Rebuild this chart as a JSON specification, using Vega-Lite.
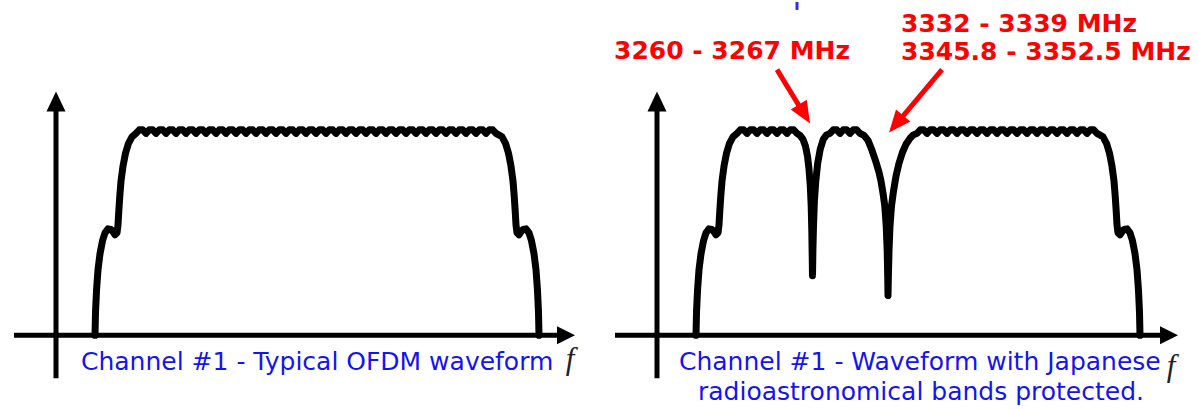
{
  "$schema": "https://vega.github.io/schema/vega-lite/v6.json",
  "width": 1198,
  "height": 409,
  "padding": 0,
  "autosize": {"type": "fit", "contains": "padding"},
  "background": "white",
  "config": {"view": {"stroke": null}},
  "datasets": {
    "curve": [
      {"g":"L","f":95,"p":0},{"g":"L","f":95.5,"p":23},{"g":"L","f":96.5,"p":45},{"g":"L","f":98,"p":66},{"g":"L","f":100,"p":82},{"g":"L","f":102.5,"p":95},{"g":"L","f":105,"p":103},{"g":"L","f":108,"p":107},{"g":"L","f":111,"p":106.5},{"g":"L","f":113,"p":104},{"g":"L","f":115,"p":101},{"g":"L","f":117,"p":103},{"g":"L","f":118,"p":111},{"g":"L","f":118.8,"p":125},{"g":"L","f":119.8,"p":140},{"g":"L","f":121,"p":155},{"g":"L","f":123,"p":170},{"g":"L","f":125.5,"p":183},{"g":"L","f":128.5,"p":193},{"g":"L","f":132,"p":199.5},
      {"g":"L","f":136,"p":203},{"g":"L","f":139.3,"p":206.5},{"g":"L","f":142.7,"p":206.5},
      {"g":"L","f":146,"p":203},{"g":"L","f":149.3,"p":206.5},{"g":"L","f":152.7,"p":206.5},
      {"g":"L","f":156,"p":203},{"g":"L","f":159.3,"p":206.5},{"g":"L","f":162.7,"p":206.5},
      {"g":"L","f":166,"p":203},{"g":"L","f":169.3,"p":206.5},{"g":"L","f":172.7,"p":206.5},
      {"g":"L","f":176,"p":203},{"g":"L","f":179.3,"p":206.5},{"g":"L","f":182.7,"p":206.5},
      {"g":"L","f":186,"p":203},{"g":"L","f":189.3,"p":206.5},{"g":"L","f":192.7,"p":206.5},
      {"g":"L","f":196,"p":203},{"g":"L","f":199.3,"p":206.5},{"g":"L","f":202.7,"p":206.5},
      {"g":"L","f":206,"p":203},{"g":"L","f":209.3,"p":206.5},{"g":"L","f":212.7,"p":206.5},
      {"g":"L","f":216,"p":203},{"g":"L","f":219.3,"p":206.5},{"g":"L","f":222.7,"p":206.5},
      {"g":"L","f":226,"p":203},{"g":"L","f":229.3,"p":206.5},{"g":"L","f":232.7,"p":206.5},
      {"g":"L","f":236,"p":203},{"g":"L","f":239.3,"p":206.5},{"g":"L","f":242.7,"p":206.5},
      {"g":"L","f":246,"p":203},{"g":"L","f":249.3,"p":206.5},{"g":"L","f":252.7,"p":206.5},
      {"g":"L","f":256,"p":203},{"g":"L","f":259.3,"p":206.5},{"g":"L","f":262.7,"p":206.5},
      {"g":"L","f":266,"p":203},{"g":"L","f":269.3,"p":206.5},{"g":"L","f":272.7,"p":206.5},
      {"g":"L","f":276,"p":203},{"g":"L","f":279.3,"p":206.5},{"g":"L","f":282.7,"p":206.5},
      {"g":"L","f":286,"p":203},{"g":"L","f":289.3,"p":206.5},{"g":"L","f":292.7,"p":206.5},
      {"g":"L","f":296,"p":203},{"g":"L","f":299.3,"p":206.5},{"g":"L","f":302.7,"p":206.5},
      {"g":"L","f":306,"p":203},{"g":"L","f":309.3,"p":206.5},{"g":"L","f":312.7,"p":206.5},
      {"g":"L","f":316,"p":203},{"g":"L","f":319.3,"p":206.5},{"g":"L","f":322.7,"p":206.5},
      {"g":"L","f":326,"p":203},{"g":"L","f":329.3,"p":206.5},{"g":"L","f":332.7,"p":206.5},
      {"g":"L","f":336,"p":203},{"g":"L","f":339.3,"p":206.5},{"g":"L","f":342.7,"p":206.5},
      {"g":"L","f":346,"p":203},{"g":"L","f":349.3,"p":206.5},{"g":"L","f":352.7,"p":206.5},
      {"g":"L","f":356,"p":203},{"g":"L","f":359.3,"p":206.5},{"g":"L","f":362.7,"p":206.5},
      {"g":"L","f":366,"p":203},{"g":"L","f":369.3,"p":206.5},{"g":"L","f":372.7,"p":206.5},
      {"g":"L","f":376,"p":203},{"g":"L","f":379.3,"p":206.5},{"g":"L","f":382.7,"p":206.5},
      {"g":"L","f":386,"p":203},{"g":"L","f":389.3,"p":206.5},{"g":"L","f":392.7,"p":206.5},
      {"g":"L","f":396,"p":203},{"g":"L","f":399.3,"p":206.5},{"g":"L","f":402.7,"p":206.5},
      {"g":"L","f":406,"p":203},{"g":"L","f":409.3,"p":206.5},{"g":"L","f":412.7,"p":206.5},
      {"g":"L","f":416,"p":203},{"g":"L","f":419.3,"p":206.5},{"g":"L","f":422.7,"p":206.5},
      {"g":"L","f":426,"p":203},{"g":"L","f":429.3,"p":206.5},{"g":"L","f":432.7,"p":206.5},
      {"g":"L","f":436,"p":203},{"g":"L","f":439.3,"p":206.5},{"g":"L","f":442.7,"p":206.5},
      {"g":"L","f":446,"p":203},{"g":"L","f":449.3,"p":206.5},{"g":"L","f":452.7,"p":206.5},
      {"g":"L","f":456,"p":203},{"g":"L","f":459.3,"p":206.5},{"g":"L","f":462.7,"p":206.5},
      {"g":"L","f":466,"p":203},{"g":"L","f":469.3,"p":206.5},{"g":"L","f":472.7,"p":206.5},
      {"g":"L","f":476,"p":203},{"g":"L","f":479.3,"p":206.5},{"g":"L","f":482.7,"p":206.5},
      {"g":"L","f":486,"p":203},{"g":"L","f":489.3,"p":206.5},{"g":"L","f":492.7,"p":206.5},
      {"g":"L","f":496,"p":203},
      {"g":"L","f":502,"p":199.5},{"g":"L","f":505.5,"p":193},{"g":"L","f":508.5,"p":183},{"g":"L","f":511,"p":170},{"g":"L","f":513,"p":155},{"g":"L","f":514.2,"p":140},{"g":"L","f":515.2,"p":125},{"g":"L","f":516,"p":111},{"g":"L","f":517,"p":103},{"g":"L","f":519,"p":101},{"g":"L","f":521,"p":104},{"g":"L","f":523,"p":106.5},{"g":"L","f":526,"p":107},{"g":"L","f":529,"p":103},{"g":"L","f":531.5,"p":95},{"g":"L","f":534,"p":82},{"g":"L","f":536,"p":66},{"g":"L","f":537.5,"p":45},{"g":"L","f":538.5,"p":23},{"g":"L","f":539,"p":0},

      {"g":"R","f":696,"p":0},{"g":"R","f":696.5,"p":23},{"g":"R","f":697.5,"p":45},{"g":"R","f":699,"p":66},{"g":"R","f":701,"p":82},{"g":"R","f":703.5,"p":95},{"g":"R","f":706,"p":103},{"g":"R","f":709,"p":107},{"g":"R","f":712,"p":106.5},{"g":"R","f":714,"p":104},{"g":"R","f":716,"p":101},{"g":"R","f":718,"p":103},{"g":"R","f":719,"p":111},{"g":"R","f":719.8,"p":125},{"g":"R","f":720.8,"p":140},{"g":"R","f":722,"p":155},{"g":"R","f":724,"p":170},{"g":"R","f":726.5,"p":183},{"g":"R","f":729.5,"p":193},{"g":"R","f":733,"p":199.5},
      {"g":"R","f":737,"p":203},{"g":"R","f":740.3,"p":206.5},{"g":"R","f":743.7,"p":206.5},
      {"g":"R","f":747,"p":203},{"g":"R","f":750.3,"p":206.5},{"g":"R","f":753.7,"p":206.5},
      {"g":"R","f":757,"p":203},{"g":"R","f":760.3,"p":206.5},{"g":"R","f":763.7,"p":206.5},
      {"g":"R","f":767,"p":203},{"g":"R","f":770.3,"p":206.5},{"g":"R","f":773.7,"p":206.5},
      {"g":"R","f":777,"p":203},{"g":"R","f":780.3,"p":206.5},{"g":"R","f":783.7,"p":206.5},
      {"g":"R","f":787,"p":203},{"g":"R","f":790.3,"p":206.5},{"g":"R","f":793.7,"p":206.5},
      {"g":"R","f":797,"p":203},
      {"g":"R","f":800,"p":201},{"g":"R","f":803,"p":197},{"g":"R","f":805.5,"p":190},{"g":"R","f":807.5,"p":180},{"g":"R","f":809,"p":167},{"g":"R","f":810.3,"p":150},{"g":"R","f":811.2,"p":130},{"g":"R","f":811.8,"p":105},{"g":"R","f":812.2,"p":80},{"g":"R","f":812.5,"p":60},
      {"g":"R","f":812.9,"p":85},{"g":"R","f":813.5,"p":110},{"g":"R","f":814.4,"p":135},{"g":"R","f":815.8,"p":155},{"g":"R","f":817.7,"p":173},{"g":"R","f":820.2,"p":187},{"g":"R","f":823.3,"p":197},{"g":"R","f":826.5,"p":201.5},
      {"g":"R","f":830,"p":203},{"g":"R","f":833.3,"p":206.5},{"g":"R","f":836.7,"p":206.5},
      {"g":"R","f":840,"p":203},{"g":"R","f":843.3,"p":206.5},{"g":"R","f":846.7,"p":206.5},
      {"g":"R","f":850,"p":203},{"g":"R","f":853.3,"p":206.5},{"g":"R","f":856.7,"p":206.5},
      {"g":"R","f":860,"p":203},
      {"g":"R","f":864,"p":201},{"g":"R","f":868,"p":196},{"g":"R","f":872,"p":186},{"g":"R","f":876,"p":174},{"g":"R","f":879,"p":164},{"g":"R","f":881,"p":155},{"g":"R","f":883,"p":143},{"g":"R","f":884.8,"p":130},{"g":"R","f":886.2,"p":110},{"g":"R","f":887.2,"p":85},{"g":"R","f":887.7,"p":60},{"g":"R","f":888,"p":40},
      {"g":"R","f":888.4,"p":60},{"g":"R","f":889,"p":85},{"g":"R","f":890,"p":110},{"g":"R","f":891.5,"p":130},{"g":"R","f":893.5,"p":145},{"g":"R","f":896,"p":160},{"g":"R","f":899,"p":173},{"g":"R","f":902.5,"p":184},{"g":"R","f":906,"p":192},{"g":"R","f":910,"p":198},{"g":"R","f":913.5,"p":201.5},
      {"g":"R","f":917,"p":203},{"g":"R","f":920.3,"p":206.5},{"g":"R","f":923.7,"p":206.5},
      {"g":"R","f":927,"p":203},{"g":"R","f":930.3,"p":206.5},{"g":"R","f":933.7,"p":206.5},
      {"g":"R","f":937,"p":203},{"g":"R","f":940.3,"p":206.5},{"g":"R","f":943.7,"p":206.5},
      {"g":"R","f":947,"p":203},{"g":"R","f":950.3,"p":206.5},{"g":"R","f":953.7,"p":206.5},
      {"g":"R","f":957,"p":203},{"g":"R","f":960.3,"p":206.5},{"g":"R","f":963.7,"p":206.5},
      {"g":"R","f":967,"p":203},{"g":"R","f":970.3,"p":206.5},{"g":"R","f":973.7,"p":206.5},
      {"g":"R","f":977,"p":203},{"g":"R","f":980.3,"p":206.5},{"g":"R","f":983.7,"p":206.5},
      {"g":"R","f":987,"p":203},{"g":"R","f":990.3,"p":206.5},{"g":"R","f":993.7,"p":206.5},
      {"g":"R","f":997,"p":203},{"g":"R","f":1000.3,"p":206.5},{"g":"R","f":1003.7,"p":206.5},
      {"g":"R","f":1007,"p":203},{"g":"R","f":1010.3,"p":206.5},{"g":"R","f":1013.7,"p":206.5},
      {"g":"R","f":1017,"p":203},{"g":"R","f":1020.3,"p":206.5},{"g":"R","f":1023.7,"p":206.5},
      {"g":"R","f":1027,"p":203},{"g":"R","f":1030.3,"p":206.5},{"g":"R","f":1033.7,"p":206.5},
      {"g":"R","f":1037,"p":203},{"g":"R","f":1040.3,"p":206.5},{"g":"R","f":1043.7,"p":206.5},
      {"g":"R","f":1047,"p":203},{"g":"R","f":1050.3,"p":206.5},{"g":"R","f":1053.7,"p":206.5},
      {"g":"R","f":1057,"p":203},{"g":"R","f":1060.3,"p":206.5},{"g":"R","f":1063.7,"p":206.5},
      {"g":"R","f":1067,"p":203},{"g":"R","f":1070.3,"p":206.5},{"g":"R","f":1073.7,"p":206.5},
      {"g":"R","f":1077,"p":203},{"g":"R","f":1080.3,"p":206.5},{"g":"R","f":1083.7,"p":206.5},
      {"g":"R","f":1087,"p":203},{"g":"R","f":1090.3,"p":206.5},{"g":"R","f":1093.7,"p":206.5},
      {"g":"R","f":1097,"p":203},
      {"g":"R","f":1103,"p":199.5},{"g":"R","f":1106.5,"p":193},{"g":"R","f":1109.5,"p":183},{"g":"R","f":1112,"p":170},{"g":"R","f":1114,"p":155},{"g":"R","f":1115.2,"p":140},{"g":"R","f":1116.2,"p":125},{"g":"R","f":1117,"p":111},{"g":"R","f":1118,"p":103},{"g":"R","f":1120,"p":101},{"g":"R","f":1122,"p":104},{"g":"R","f":1124,"p":106.5},{"g":"R","f":1127,"p":107},{"g":"R","f":1130,"p":103},{"g":"R","f":1132.5,"p":95},{"g":"R","f":1135,"p":82},{"g":"R","f":1137,"p":66},{"g":"R","f":1138.5,"p":45},{"g":"R","f":1139.5,"p":23},{"g":"R","f":1140,"p":0}
    ],
    "axes": [
      {"f":56,"f2":56,"p":-43,"p2":228},
      {"f":14,"f2":566,"p":0,"p2":0},
      {"f":657,"f2":657,"p":-43,"p2":228},
      {"f":615,"f2":1169,"p":0,"p2":0}
    ],
    "upHeads": [{"f":56,"p":235},{"f":657,"p":235}],
    "rightHeads": [{"f":566,"p":0},{"f":1169,"p":0}],
    "redLines": [
      {"f":777,"f2":805,"p":267,"p2":221},
      {"f":942,"f2":896,"p":267,"p2":212}
    ],
    "redText": [
      {"f":614,"p":278,"t":"3260 - 3267 MHz"},
      {"f":901,"p":305,"t":"3332 - 3339 MHz"},
      {"f":901,"p":277,"t":"3345.8 - 3352.5 MHz"}
    ],
    "blueText": [
      {"f":81,"p":-35,"t":"Channel #1 - Typical OFDM waveform"},
      {"f":679,"p":-35,"t":"Channel #1 - Waveform with Japanese"},
      {"f":698,"p":-65,"t":"radioastronomical bands protected."}
    ],
    "fText": [{"f":570,"p":-34},{"f":1171,"p":-41}],
    "frag": [{"f":797,"f2":797,"p":335,"p2":327}]
  },
  "data": {"name": "curve"},
  "encoding": {
    "x": {"field": "f", "type": "quantitative", "scale": {"domain": [0, 1198], "nice": false, "zero": false}, "axis": null},
    "y": {"field": "p", "type": "quantitative", "scale": {"domain": [-74, 335], "nice": false, "zero": false}, "axis": null}
  },
  "layer": [
    {
      "data": {"name": "axes"},
      "mark": {"type": "rule", "color": "black", "strokeWidth": 5},
      "encoding": {"x2": {"field": "f2"}, "y2": {"field": "p2"}}
    },
    {
      "data": {"name": "upHeads"},
      "mark": {"type": "point", "shape": "M0,-1L0.95,1L-0.95,1Z", "filled": true, "color": "black", "opacity": 1, "size": 400, "angle": 0, "strokeWidth": 0}
    },
    {
      "data": {"name": "rightHeads"},
      "mark": {"type": "point", "shape": "M0,-1L1,1L-1,1Z", "filled": true, "color": "black", "opacity": 1, "size": 324, "angle": 90, "strokeWidth": 0}
    },
    {
      "mark": {"type": "line", "color": "black", "strokeWidth": 7, "strokeCap": "round", "strokeJoin": "round"},
      "encoding": {"detail": {"field": "g"}}
    },
    {
      "data": {"name": "redLines"},
      "mark": {"type": "rule", "color": "#ff0000", "strokeWidth": 5},
      "encoding": {"x2": {"field": "f2"}, "y2": {"field": "p2"}}
    },
    {
      "data": {"values": [{"f":804.4,"p":222.4}]},
      "mark": {"type": "point", "shape": "M0,-1L0.85,1L-0.85,1Z", "filled": true, "color": "#ff0000", "opacity": 1, "size": 484, "angle": 149, "strokeWidth": 0}
    },
    {
      "data": {"values": [{"f":896.1,"p":212.4}]},
      "mark": {"type": "point", "shape": "M0,-1L0.85,1L-0.85,1Z", "filled": true, "color": "#ff0000", "opacity": 1, "size": 484, "angle": 220, "strokeWidth": 0}
    },
    {
      "data": {"name": "redText"},
      "mark": {"type": "text", "align": "left", "baseline": "alphabetic", "font": "DejaVu Sans", "fontWeight": "bold", "fontSize": 25, "color": "#ff0000"},
      "encoding": {"text": {"field": "t"}}
    },
    {
      "data": {"name": "blueText"},
      "mark": {"type": "text", "align": "left", "baseline": "alphabetic", "font": "DejaVu Sans", "fontSize": 25, "color": "#1414f0"},
      "encoding": {"text": {"field": "t"}}
    },
    {
      "data": {"name": "fText"},
      "mark": {"type": "text", "align": "center", "baseline": "alphabetic", "font": "Liberation Serif", "fontStyle": "italic", "fontSize": 31, "color": "#222222", "text": "f"}
    },
    {
      "data": {"name": "frag"},
      "mark": {"type": "rule", "color": "#3030e0", "strokeWidth": 3},
      "encoding": {"x2": {"field": "f2"}, "y2": {"field": "p2"}}
    }
  ]
}
